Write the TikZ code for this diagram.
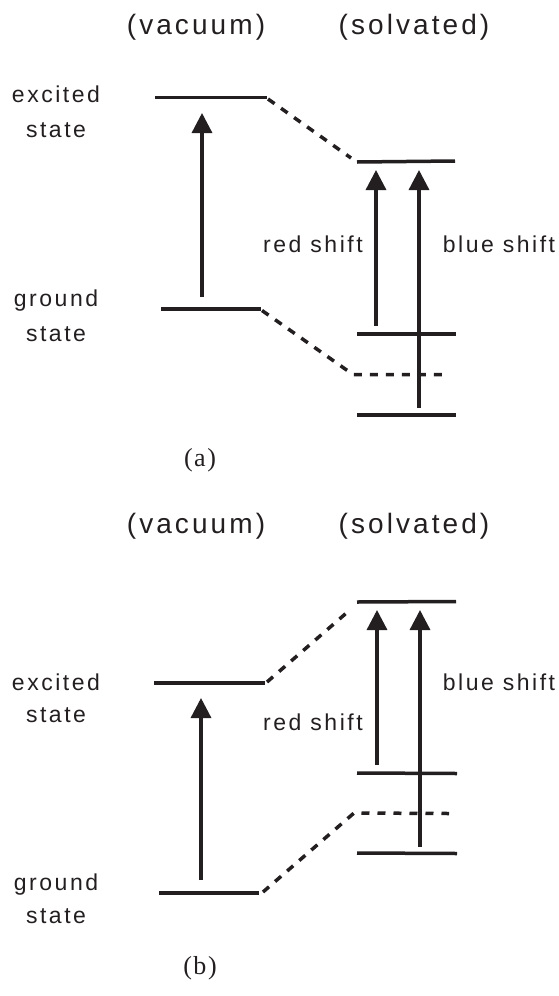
\documentclass[tikz,border=0pt]{standalone}
\usepackage{fontspec}
\usetikzlibrary{arrows.meta}
\newfontfamily\lblfont[LetterSpace=11]{Liberation Sans}
\newfontfamily\capfont[LetterSpace=6]{Liberation Serif}
\definecolor{ink}{RGB}{35,31,32}
\begin{document}
\begin{tikzpicture}[x=1pt,y=-1pt,
  lvl/.style={line width=3.5pt, draw=ink},
  dsh/.style={line width=3.5pt, draw=ink, dash pattern=on 8pt off 8pt},
  uparrow/.style={line width=3.3pt, draw=ink, -{Triangle[width=20pt,length=20pt]}},
  head/.style={font=\lblfont\fontsize{28}{30}\selectfont, text=ink, inner sep=0pt, anchor=base},
  lbl/.style={font=\lblfont\fontsize{23}{26}\selectfont, text=ink, inner sep=0pt, anchor=base},
  capt/.style={font=\capfont\fontsize{26}{28}\selectfont, text=ink, inner sep=0pt, anchor=base}]
\useasboundingbox (0,0) rectangle (558,996);

% ================= panel (a) =================
\node[head] (vacA) at (196,34) {(vacuum)};
\node[head] (solA) at (414,34) {(solvated)};
\node[lbl] (exA1) at (56,102) {excited};
\node[lbl] (exA2) at (56,137) {state};
\node[lbl] (grA1) at (56,306) {ground};
\node[lbl] (grA2) at (56,341) {state};
\node[lbl] (redA) at (313,252) {red shift};
\node[lbl] (bluA) at (499,252) {blue shift};
\node[capt] (capA) at (200,466) {(a)};

\coordinate (aVE1) at (155,97.5);  \coordinate (aVE2) at (267,97.5);
\coordinate (aVG1) at (161,309);   \coordinate (aVG2) at (261,309);
\coordinate (aSE1) at (357,162);   \coordinate (aSE2) at (455,161);
\coordinate (aSG1) at (357,334);   \coordinate (aSG2) at (456,334);
\coordinate (aSD1) at (353,374.5); \coordinate (aSD2) at (449,374.5);
\coordinate (aSL1) at (357,415);   \coordinate (aSL2) at (456,415);
\coordinate (aDE1) at (268,99);    \coordinate (aDE2) at (351,158);
\coordinate (aDG1) at (262,310.5);

\draw[lvl] (aVE1) -- (aVE2);
\draw[lvl] (aVG1) -- (aVG2);
\draw[lvl] (aSE1) -- (aSE2);
\draw[lvl] (aSG1) -- (aSG2);
\draw[lvl] (aSL1) -- (aSL2);
\draw[dsh] (aDE1) -- (aDE2);
\draw[dsh] (aDG1) -- (aSD1) -- (aSD2);

\coordinate (aA0) at (202,297); \coordinate (aA0t) at (202,113);
\coordinate (aA1) at (376,326); \coordinate (aA1t) at (376,170);
\coordinate (aA2) at (419,408); \coordinate (aA2t) at (419,170);
\draw[uparrow] (aA0) -- (aA0t);
\draw[uparrow] (aA1) -- (aA1t);
\draw[uparrow] (aA2) -- (aA2t);

% ================= panel (b) =================
\node[head] (vacB) at (196,533) {(vacuum)};
\node[head] (solB) at (414,533) {(solvated)};
\node[lbl] (exB1) at (56,690) {excited};
\node[lbl] (exB2) at (56,722) {state};
\node[lbl] (grB1) at (56,890) {ground};
\node[lbl] (grB2) at (56,923) {state};
\node[lbl] (bluB) at (499,690) {blue shift};
\node[lbl] (redB) at (313,730) {red shift};
\node[capt] (capB) at (200,974) {(b)};

\coordinate (bVE1) at (154,683);   \coordinate (bVE2) at (265,683);
\coordinate (bVG1) at (159,893);   \coordinate (bVG2) at (259,893);
\coordinate (bSE1) at (357,602);   \coordinate (bSE2) at (456,601.5);
\coordinate (bSG1) at (357,773);   \coordinate (bSG2) at (457,773.5);
\coordinate (bSD1) at (354,813);   \coordinate (bSD2) at (449,813.5);
\coordinate (bSL1) at (357,853);   \coordinate (bSL2) at (457,853.5);
\coordinate (bDE1) at (267,682);   \coordinate (bDE2) at (351,609);
\coordinate (bDG1) at (263,892);

\draw[lvl] (bVE1) -- (bVE2);
\draw[lvl] (bVG1) -- (bVG2);
\draw[lvl] (bSE1) -- (bSE2);
\draw[lvl] (bSG1) -- (bSG2);
\draw[lvl] (bSL1) -- (bSL2);
\draw[dsh] (bDE1) -- (bDE2);
\draw[dsh] (bDG1) -- (bSD1) -- (bSD2);

\coordinate (bA0) at (201,880); \coordinate (bA0t) at (201,698);
\coordinate (bA1) at (377,765); \coordinate (bA1t) at (377,610);
\coordinate (bA2) at (420,847); \coordinate (bA2t) at (420,610);
\draw[uparrow] (bA0) -- (bA0t);
\draw[uparrow] (bA1) -- (bA1t);
\draw[uparrow] (bA2) -- (bA2t);
\end{tikzpicture}
\end{document}
